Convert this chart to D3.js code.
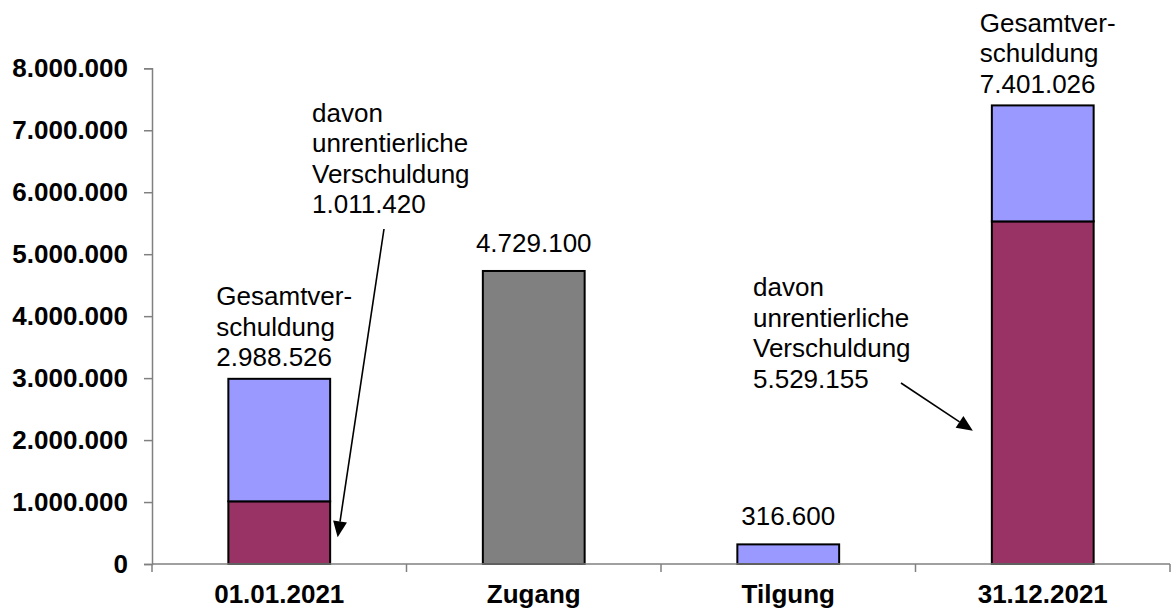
<!DOCTYPE html>
<html>
<head>
<meta charset="utf-8">
<script src="https://cdn.jsdelivr.net/npm/d3@7"></script>
<style>
  html, body { margin: 0; padding: 0; background: #fff; }
  svg { display: block; font-family: "Liberation Sans", Arial, sans-serif; }
</style>
</head>
<body>
<svg id="chart" width="1172" height="612"></svg>
<script>
// Schuldenstand: Anfangsbestand, Zugang, Tilgung, Endbestand
const categories = ["01.01.2021", "Zugang", "Tilgung", "31.12.2021"];
// unrentierlicher Anteil (unteres Segment)
const unrentierlich = [1011420, 0, 0, 5529155];
// übrige Verschuldung (oberes Segment)
const uebrige = [1977106, 0, 316600, 1871871];
// Zugang als eigene Reihe
const zugang = [0, 4729100, 0, 0];
const yTicks = [0, 1000000, 2000000, 3000000, 4000000, 5000000, 6000000, 7000000, 8000000];

const colors = { unrentierlich: "#993366", uebrige: "#9999FF", zugang: "#808080" };

const de = d3.formatLocale({ decimal: ",", thousands: ".", grouping: [3], currency: ["", " €"] });
const fmt = de.format(",d");

const svg = d3.select("#chart");
const plotLeft = 152, plotRight = 1170, plotTop = 68.3, plotBottom = 564;

const x = d3.scaleBand().domain(categories).range([plotLeft, plotRight]).paddingInner(0.6).paddingOuter(0.3);
const y = d3.scaleLinear().domain([0, 8000000]).range([plotBottom, plotTop]);
const bw = x.bandwidth();

// Stapel aufbauen
const stackData = categories.map((c, i) => ({
  cat: c, unrentierlich: unrentierlich[i], zugang: zugang[i], uebrige: uebrige[i]
}));
const keys = ["unrentierlich", "zugang", "uebrige"];
const series = d3.stack().keys(keys)(stackData);

// Balken
svg.append("g").selectAll("g").data(series).join("g")
  .attr("fill", d => colors[d.key])
  .selectAll("rect").data(d => d.filter(p => p[1] - p[0] > 0)).join("rect")
  .attr("x", d => x(d.data.cat))
  .attr("width", bw)
  .attr("y", d => y(d[1]))
  .attr("height", d => y(d[0]) - y(d[1]))
  .attr("stroke", "#000")
  .attr("stroke-width", 2);

// Y-Achse
const yAxis = svg.append("g")
  .attr("transform", `translate(${plotLeft},0)`)
  .call(d3.axisLeft(y).tickValues(yTicks).tickSize(8).tickPadding(16).tickFormat(fmt));
yAxis.select(".domain").attr("stroke", "#808080").attr("stroke-width", 1.5);
yAxis.selectAll(".tick line").attr("stroke", "#808080").attr("stroke-width", 1.5);
yAxis.selectAll(".tick text")
  .attr("font-size", 26).attr("font-weight", "bold").attr("fill", "#000")
  .attr("font-family", "'Liberation Sans', Arial, sans-serif");

// X-Achse mit Teilstrichen an den Kategoriegrenzen
const xAxis = svg.append("g").attr("transform", `translate(0,${plotBottom})`);
xAxis.append("line")
  .attr("x1", plotLeft).attr("x2", plotRight).attr("y1", 0).attr("y2", 0)
  .attr("stroke", "#808080").attr("stroke-width", 1.5);
const bounds = d3.range(categories.length + 1).map(i => plotLeft + i * x.step());
xAxis.selectAll("line.tick").data(bounds).join("line")
  .attr("class", "tick")
  .attr("x1", d => d).attr("x2", d => d).attr("y1", 0).attr("y2", 8)
  .attr("stroke", "#808080").attr("stroke-width", 1.5);
xAxis.selectAll("text").data(categories).join("text")
  .attr("x", d => x(d) + bw / 2)
  .attr("y", 39)
  .attr("text-anchor", "middle")
  .attr("font-size", 26).attr("font-weight", "bold")
  .text(d => d);

const lh = 30.5;
function multiline(xPos, yFirst, lines, anchor) {
  const t = svg.append("text")
    .attr("font-size", 26).attr("fill", "#000")
    .attr("text-anchor", anchor || "start");
  lines.forEach((l, i) => {
    t.append("tspan").attr("x", xPos).attr("y", yFirst + i * lh).text(l);
  });
  return t;
}

// Gesamtverschuldung über den Bestandsbalken
[0, 3].forEach(i => {
  const total = unrentierlich[i] + uebrige[i];
  const last = y(total) - 12.5;
  multiline(x(categories[i]) - 12, last - 2 * lh, ["Gesamtver-", "schuldung", fmt(total)]);
});

// Werte über Zugang und Tilgung
[[1, zugang[1]], [2, uebrige[2]]].forEach(([i, v]) => {
  svg.append("text")
    .attr("x", x(categories[i]) + bw / 2)
    .attr("y", y(v) - 19)
    .attr("text-anchor", "middle")
    .attr("font-size", 26)
    .text(fmt(v));
});

// Hinweise auf den unrentierlichen Anteil
multiline(312, 121.7, ["davon", "unrentierliche", "Verschuldung", fmt(unrentierlich[0])]);
multiline(753, 296, ["davon", "unrentierliche", "Verschuldung", fmt(unrentierlich[3])]);

function arrow(x1, y1, x2, y2) {
  const ang = Math.atan2(y2 - y1, x2 - x1);
  const len = 16, half = 7;
  const bx = x2 - len * Math.cos(ang), by = y2 - len * Math.sin(ang);
  svg.append("line")
    .attr("x1", x1).attr("y1", y1).attr("x2", bx).attr("y2", by)
    .attr("stroke", "#000").attr("stroke-width", 1.6);
  const px = -Math.sin(ang) * half, py = Math.cos(ang) * half;
  svg.append("path")
    .attr("d", `M${x2},${y2}L${bx + px},${by + py}L${bx - px},${by - py}Z`)
    .attr("fill", "#000");
}
arrow(384, 229, x(categories[0]) + bw + 7.5, y(430000));
arrow(901, 383, x(categories[3]) - 19, y(2150000));
</script>
</body>
</html>
